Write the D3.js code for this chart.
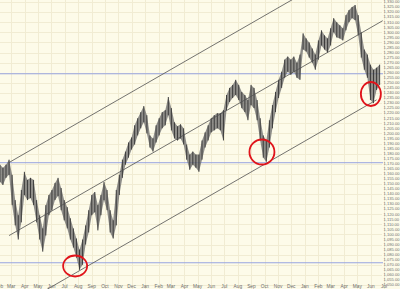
<!DOCTYPE html>
<html><head><meta charset="utf-8">
<script src="https://cdn.jsdelivr.net/npm/d3@7"></script>
<style>html,body{margin:0;padding:0;background:#fdfbe9;} svg{display:block;}</style>
</head><body><svg id="c" width="400" height="289"></svg>
<script>
// ---- data (weekly bars) ----
const firstBar = new Date(2009, 1, 3);
const highs = [1169,1166,1169,1174,1159,1134,1119,1144,1162,1154,1156,1154,1134,1119,1106,1129,1139,1144,1151,1156,1146,1134,1127,1116,1106,1096,1085,1095,1109,1124,1139,1142,1129,1139,1152,1144,1124,1114,1144,1159,1174,1182,1191,1196,1208,1215,1221,1227,1218,
1198,1195,1208,1215,1221,1223,1236,1225,1211,1207,1209,1205,1189,1179,1182,1179,1179,1193,1201,1208,1215,1218,1220,1220,1223,1238,1245,1248,1253,1248,1241,1238,1233,1248,1245,1233,1215,1198,1193,1213,1228,1241,1253,1261,1273,1276,1273,1276,
1270,1278,1299,1294,1290,1284,1278,1292,1302,1297,1294,1304,1314,1310,1307,1304,1317,1322,1325,1327,1317,1300,1283,1278,1268,1263,1265,1268];
const lows = [1152,1149,1156,1159,1129,1109,1095,1112,1139,1134,1136,1129,1112,1095,1083,1099,1119,1124,1134,1138,1124,1114,1106,1095,1087,1077,1065,1070,1090,1102,1119,1122,1104,1119,1134,1124,1102,1096,1109,1139,1156,1169,1176,1184,1189,1198,1205,1211,1200,
1186,1182,1191,1198,1205,1208,1218,1203,1195,1193,1195,1189,1174,1164,1169,1166,1162,1174,1186,1193,1201,1203,1205,1203,1193,1223,1231,1235,1238,1233,1225,1221,1213,1228,1225,1213,1193,1176,1172,1186,1205,1221,1235,1245,1255,1261,1258,1261,
1255,1253,1283,1281,1275,1270,1263,1273,1287,1283,1280,1287,1300,1295,1294,1292,1302,1310,1314,1312,1297,1275,1263,1255,1233,1230,1243,1248];
const levels = [1259, 1171, 1072];
// channel lines: [bar index, price] start and end
const channelStart = [[3, 1171.2], [3, 1098.9], [15, 1045.0]];
const channelEnd   = [[98, 1336.7], [125, 1311.5], [123, 1233.2]];
// circled lows: date, price
const circleDates  = [new Date(2009, 6, 25), new Date(2010, 8, 25), new Date(2011, 5, 1)];
const circlePrices = [1068.8, 1181.6, 1239.0];
const circleRx = [12, 12.5, 10];
const circleRy = [10.5, 12.5, 12];
const yTicks = d3.range(1050, 1331, 5);
const gridVals = d3.range(1050, 1331, 10);

const W = 400, H = 289;
const svg = d3.select('#c');
const x = d3.scaleTime().domain([new Date(2009, 1, 1), new Date(2011, 6, 1)]).range([-1, 384]);
const y = d3.scaleLinear().domain([1050, 1330]).range([285, 2]);
const barDate = i => d3.timeDay.offset(firstBar, 7 * i);

svg.append('rect').attr('width', W).attr('height', H).attr('fill', '#fdfbe9');

const months = d3.timeMonth.range(new Date(2009, 1, 1), new Date(2011, 6, 2));
// grid
svg.append('g').selectAll('line').data(gridVals).join('line')
  .attr('x1', 0).attr('x2', 382).attr('y1', d => Math.round(y(d)) + 0.5).attr('y2', d => Math.round(y(d)) + 0.5)
  .attr('stroke', '#f1ecd3').attr('stroke-width', 1);
svg.append('g').selectAll('line').data(months).join('line')
  .attr('x1', d => Math.round(x(d)) + 0.5).attr('x2', d => Math.round(x(d)) + 0.5)
  .attr('y1', 0).attr('y2', H)
  .attr('stroke', '#f1ecd3').attr('stroke-width', 1);

// horizontal levels
svg.append('g').selectAll('line').data(levels).join('line')
  .attr('x1', 0).attr('x2', 383).attr('y1', d => y(d)).attr('y2', d => y(d))
  .attr('stroke', '#97a4e0').attr('stroke-width', 1);

// price band
const idx = d3.range(highs.length);
const area = d3.area().x(i => x(barDate(i))).y0(i => y(lows[i])).y1(i => y(highs[i]));
svg.append('path').datum(idx).attr('d', area).attr('fill', '#6a6a6a').attr('opacity', 0.75);
svg.append('g').selectAll('line').data(idx).join('line')
  .attr('x1', i => x(barDate(i))).attr('x2', i => x(barDate(i)))
  .attr('y1', i => y(highs[i])).attr('y2', i => y(lows[i]))
  .attr('stroke', '#333').attr('stroke-width', 0.9);

// channel lines
svg.append('g').selectAll('line').data(d3.range(channelStart.length)).join('line')
  .attr('x1', k => x(barDate(channelStart[k][0]))).attr('y1', k => y(channelStart[k][1]))
  .attr('x2', k => x(barDate(channelEnd[k][0]))).attr('y2', k => y(channelEnd[k][1]))
  .attr('stroke', '#505050').attr('stroke-width', 0.8);

// circles
svg.append('g').selectAll('ellipse').data(d3.range(circleDates.length)).join('ellipse')
  .attr('cx', k => x(circleDates[k])).attr('cy', k => y(circlePrices[k]))
  .attr('rx', k => circleRx[k]).attr('ry', k => circleRy[k])
  .attr('fill', 'none').attr('stroke', '#e0141b').attr('stroke-width', 1.8);

// y labels
const fmt = d3.format(',.2f');
svg.append('g').selectAll('text').data(yTicks).join('text')
  .attr('x', 383.5).attr('y', d => y(d) + 1.3)
  .attr('font-family', 'Liberation Sans, Arial, sans-serif').attr('font-size', 4.1)
  .attr('fill', '#707070').text(d => fmt(d));

// month labels
svg.append('g').selectAll('text').data(months).join('text')
  .attr('x', d => x(d)).attr('y', 288.3).attr('text-anchor', 'middle')
  .attr('font-family', 'Liberation Sans, Arial, sans-serif').attr('font-size', 4.8)
  .attr('fill', '#6d6d6d').text(d3.timeFormat('%b'));
</script></body></html>
